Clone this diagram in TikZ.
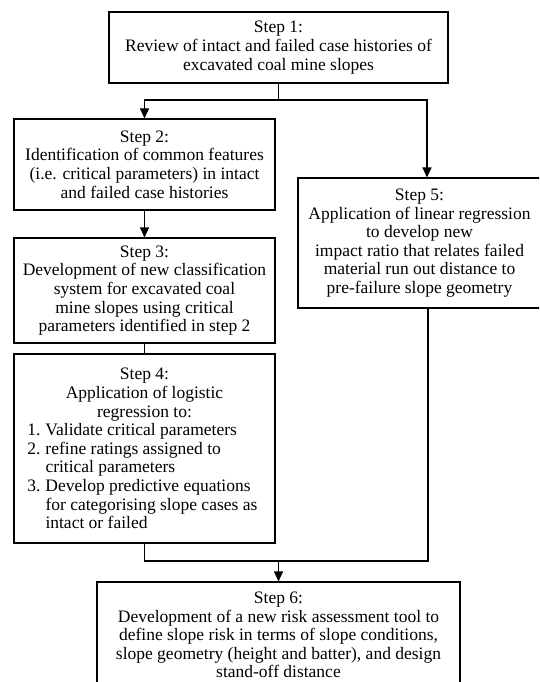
\documentclass[tikz,border=0pt]{standalone}
\usepackage{fontspec}
\setmainfont{Liberation Serif}
\usetikzlibrary{arrows.meta}
\begin{document}
\begin{tikzpicture}[x=1pt,y=-1pt,
  box/.style={draw=black, line width=1.1pt, inner sep=0pt, align=center,
    font=\fontsize{17.5}{18.6}\selectfont},
  conn/.style={draw=black, line width=1.1pt},
  arr/.style={conn, -{Triangle[width=9pt,length=10pt]}}]
\useasboundingbox (0,0) rectangle (539,682);
\clip (0,0) rectangle (539,682);
\fill[white] (0,0) rectangle (539,682);

\node[box, minimum width=339pt, minimum height=71pt] (b1) at (278.5,47.5)
  {Step 1:\\Review of intact and failed case histories of\\excavated coal mine slopes};
\node[box, minimum width=261pt, minimum height=91pt] (b2) at (144.5,164.5)
  {Step 2:\\Identification of common features\\(i.e. critical parameters) in intact\\and failed case histories};
\node[box, minimum width=261pt, minimum height=105pt] (b3) at (144.5,290.5)
  {Step 3:\\Development of new classification\\system for excavated coal\\mine slopes using critical\\parameters identified in step 2};
\node[box, minimum width=261pt, minimum height=189pt] (b4) at (144.5,448.5)
  {\begin{minipage}{250pt}\centering Step 4:\\Application of logistic\\regression to:\par
   \raggedright
   \hspace*{8pt}\makebox[18pt][l]{1.}Validate critical parameters\\
   \hspace*{8pt}\makebox[18pt][l]{2.}refine ratings assigned to\\
   \hspace*{26pt}critical parameters\\
   \hspace*{8pt}\makebox[18pt][l]{3.}Develop predictive equations\\
   \hspace*{26pt}for categorising slope cases as\\
   \hspace*{26pt}intact or failed\end{minipage}};
\node[box, minimum width=243pt, minimum height=130pt] (b5) at (419.5,243)
  {Step 5:\\Application of linear regression\\to develop new\\impact ratio that relates failed\\material run out distance to\\pre-failure slope geometry};
\node[box, minimum width=363pt, minimum height=106pt] (b6) at (278.5,635)
  {Step 6:\\Development of a new risk assessment tool to\\define slope risk in terms of slope conditions,\\slope geometry (height and batter), and design\\stand-off distance};

\coordinate (j1) at (278.5,100);
\coordinate (j5) at (427,100);
\coordinate (k) at (428,561);
\coordinate (j6) at (278.5,561);

\draw[conn] (b1.south) -- (j1);
\draw[arr] (j1) -| (b2.north);
\draw[arr] (j1) -- (j5) -- (j5 |- b5.north);
\draw[arr] (b2.south) -- (b3.north);
\draw[conn] (b3.south) -- (b4.north);
\draw[conn] (b4.south) |- (k) -- (k |- b5.south);
\draw[arr] (j6) -- (b6.north);
\end{tikzpicture}
\end{document}
